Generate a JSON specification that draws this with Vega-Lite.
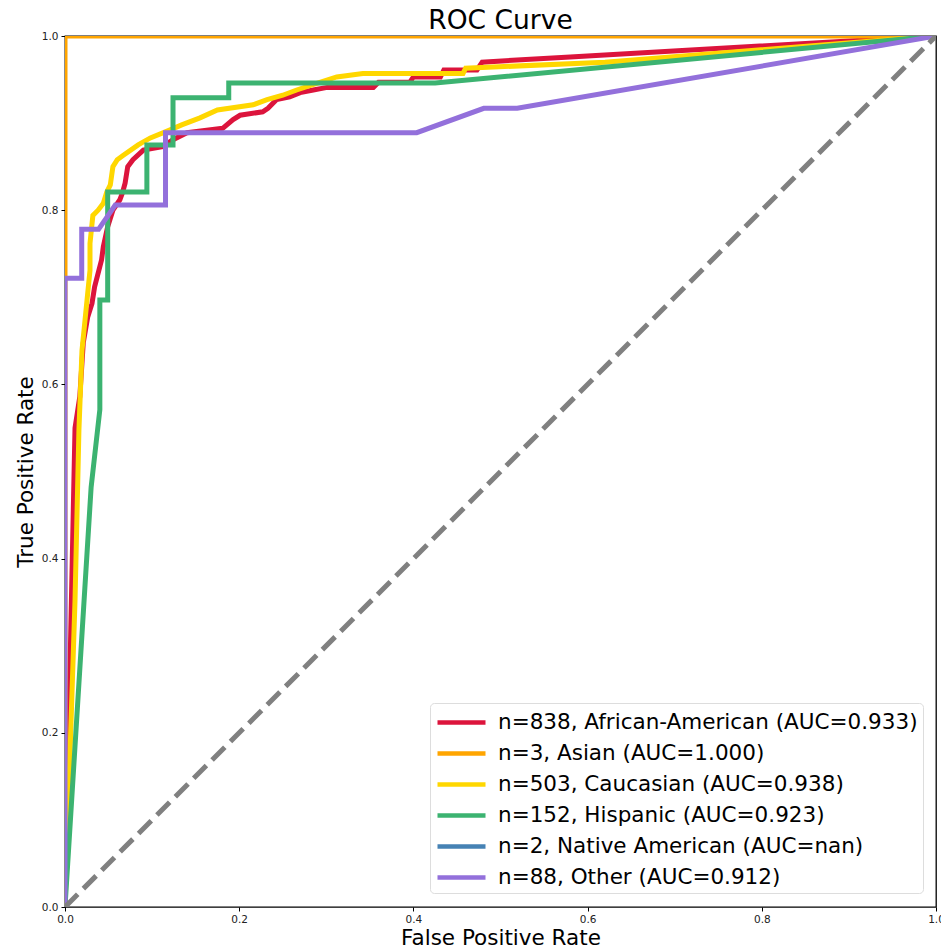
{
  "$schema": "https://vega.github.io/schema/vega-lite/v6.json",
  "width": 871,
  "height": 871,
  "autosize": "none",
  "padding": {"left": 65, "top": 36, "right": 5, "bottom": 43},
  "background": "white",
  "config": {
    "font": "DejaVu Sans",
    "view": {"stroke": "black", "strokeWidth": 1.3}
  },
  "title": {"text": "ROC Curve", "fontSize": 26.5, "fontWeight": "normal", "font": "DejaVu Sans", "color": "black", "offset": -3, "anchor": "middle"},
  "datasets": {
    "roc": [
      {"group": "n=838, African-American (AUC=0.933)", "fpr": 0, "tpr": 0},
      {"group": "n=838, African-American (AUC=0.933)", "fpr": 0.0115, "tpr": 0.55},
      {"group": "n=838, African-American (AUC=0.933)", "fpr": 0.017, "tpr": 0.586},
      {"group": "n=838, African-American (AUC=0.933)", "fpr": 0.021, "tpr": 0.648},
      {"group": "n=838, African-American (AUC=0.933)", "fpr": 0.026, "tpr": 0.677},
      {"group": "n=838, African-American (AUC=0.933)", "fpr": 0.031, "tpr": 0.693},
      {"group": "n=838, African-American (AUC=0.933)", "fpr": 0.034, "tpr": 0.712},
      {"group": "n=838, African-American (AUC=0.933)", "fpr": 0.042, "tpr": 0.743},
      {"group": "n=838, African-American (AUC=0.933)", "fpr": 0.044, "tpr": 0.758},
      {"group": "n=838, African-American (AUC=0.933)", "fpr": 0.049, "tpr": 0.781},
      {"group": "n=838, African-American (AUC=0.933)", "fpr": 0.055, "tpr": 0.8},
      {"group": "n=838, African-American (AUC=0.933)", "fpr": 0.063, "tpr": 0.812},
      {"group": "n=838, African-American (AUC=0.933)", "fpr": 0.066, "tpr": 0.82},
      {"group": "n=838, African-American (AUC=0.933)", "fpr": 0.069, "tpr": 0.831},
      {"group": "n=838, African-American (AUC=0.933)", "fpr": 0.072, "tpr": 0.85},
      {"group": "n=838, African-American (AUC=0.933)", "fpr": 0.078, "tpr": 0.858},
      {"group": "n=838, African-American (AUC=0.933)", "fpr": 0.09, "tpr": 0.869},
      {"group": "n=838, African-American (AUC=0.933)", "fpr": 0.112, "tpr": 0.873},
      {"group": "n=838, African-American (AUC=0.933)", "fpr": 0.124, "tpr": 0.881},
      {"group": "n=838, African-American (AUC=0.933)", "fpr": 0.14, "tpr": 0.889},
      {"group": "n=838, African-American (AUC=0.933)", "fpr": 0.181, "tpr": 0.894},
      {"group": "n=838, African-American (AUC=0.933)", "fpr": 0.193, "tpr": 0.904},
      {"group": "n=838, African-American (AUC=0.933)", "fpr": 0.201, "tpr": 0.909},
      {"group": "n=838, African-American (AUC=0.933)", "fpr": 0.227, "tpr": 0.913},
      {"group": "n=838, African-American (AUC=0.933)", "fpr": 0.233, "tpr": 0.917},
      {"group": "n=838, African-American (AUC=0.933)", "fpr": 0.243, "tpr": 0.927},
      {"group": "n=838, African-American (AUC=0.933)", "fpr": 0.258, "tpr": 0.93},
      {"group": "n=838, African-American (AUC=0.933)", "fpr": 0.27, "tpr": 0.935},
      {"group": "n=838, African-American (AUC=0.933)", "fpr": 0.285, "tpr": 0.938},
      {"group": "n=838, African-American (AUC=0.933)", "fpr": 0.301, "tpr": 0.941},
      {"group": "n=838, African-American (AUC=0.933)", "fpr": 0.354, "tpr": 0.941},
      {"group": "n=838, African-American (AUC=0.933)", "fpr": 0.36, "tpr": 0.947},
      {"group": "n=838, African-American (AUC=0.933)", "fpr": 0.396, "tpr": 0.947},
      {"group": "n=838, African-American (AUC=0.933)", "fpr": 0.4, "tpr": 0.953},
      {"group": "n=838, African-American (AUC=0.933)", "fpr": 0.431, "tpr": 0.953},
      {"group": "n=838, African-American (AUC=0.933)", "fpr": 0.435, "tpr": 0.961},
      {"group": "n=838, African-American (AUC=0.933)", "fpr": 0.473, "tpr": 0.961},
      {"group": "n=838, African-American (AUC=0.933)", "fpr": 0.479, "tpr": 0.97},
      {"group": "n=838, African-American (AUC=0.933)", "fpr": 0.58, "tpr": 0.976},
      {"group": "n=838, African-American (AUC=0.933)", "fpr": 1, "tpr": 1},
      {"group": "n=3, Asian (AUC=1.000)", "fpr": 0, "tpr": 0},
      {"group": "n=3, Asian (AUC=1.000)", "fpr": 0, "tpr": 1},
      {"group": "n=3, Asian (AUC=1.000)", "fpr": 1, "tpr": 1},
      {"group": "n=503, Caucasian (AUC=0.938)", "fpr": 0, "tpr": 0},
      {"group": "n=503, Caucasian (AUC=0.938)", "fpr": 0.0115, "tpr": 0.352},
      {"group": "n=503, Caucasian (AUC=0.938)", "fpr": 0.016, "tpr": 0.548},
      {"group": "n=503, Caucasian (AUC=0.938)", "fpr": 0.0195, "tpr": 0.639},
      {"group": "n=503, Caucasian (AUC=0.938)", "fpr": 0.023, "tpr": 0.674},
      {"group": "n=503, Caucasian (AUC=0.938)", "fpr": 0.0253, "tpr": 0.697},
      {"group": "n=503, Caucasian (AUC=0.938)", "fpr": 0.0287, "tpr": 0.731},
      {"group": "n=503, Caucasian (AUC=0.938)", "fpr": 0.0287, "tpr": 0.762},
      {"group": "n=503, Caucasian (AUC=0.938)", "fpr": 0.032, "tpr": 0.794},
      {"group": "n=503, Caucasian (AUC=0.938)", "fpr": 0.038, "tpr": 0.8},
      {"group": "n=503, Caucasian (AUC=0.938)", "fpr": 0.044, "tpr": 0.808},
      {"group": "n=503, Caucasian (AUC=0.938)", "fpr": 0.048, "tpr": 0.821},
      {"group": "n=503, Caucasian (AUC=0.938)", "fpr": 0.052, "tpr": 0.829},
      {"group": "n=503, Caucasian (AUC=0.938)", "fpr": 0.055, "tpr": 0.85},
      {"group": "n=503, Caucasian (AUC=0.938)", "fpr": 0.06, "tpr": 0.858},
      {"group": "n=503, Caucasian (AUC=0.938)", "fpr": 0.067, "tpr": 0.863},
      {"group": "n=503, Caucasian (AUC=0.938)", "fpr": 0.084, "tpr": 0.875},
      {"group": "n=503, Caucasian (AUC=0.938)", "fpr": 0.098, "tpr": 0.883},
      {"group": "n=503, Caucasian (AUC=0.938)", "fpr": 0.12, "tpr": 0.892},
      {"group": "n=503, Caucasian (AUC=0.938)", "fpr": 0.134, "tpr": 0.898},
      {"group": "n=503, Caucasian (AUC=0.938)", "fpr": 0.155, "tpr": 0.906},
      {"group": "n=503, Caucasian (AUC=0.938)", "fpr": 0.175, "tpr": 0.915},
      {"group": "n=503, Caucasian (AUC=0.938)", "fpr": 0.216, "tpr": 0.921},
      {"group": "n=503, Caucasian (AUC=0.938)", "fpr": 0.232, "tpr": 0.927},
      {"group": "n=503, Caucasian (AUC=0.938)", "fpr": 0.25, "tpr": 0.932},
      {"group": "n=503, Caucasian (AUC=0.938)", "fpr": 0.266, "tpr": 0.938},
      {"group": "n=503, Caucasian (AUC=0.938)", "fpr": 0.281, "tpr": 0.943},
      {"group": "n=503, Caucasian (AUC=0.938)", "fpr": 0.312, "tpr": 0.953},
      {"group": "n=503, Caucasian (AUC=0.938)", "fpr": 0.342, "tpr": 0.957},
      {"group": "n=503, Caucasian (AUC=0.938)", "fpr": 0.457, "tpr": 0.957},
      {"group": "n=503, Caucasian (AUC=0.938)", "fpr": 0.46, "tpr": 0.963},
      {"group": "n=503, Caucasian (AUC=0.938)", "fpr": 0.62, "tpr": 0.97},
      {"group": "n=503, Caucasian (AUC=0.938)", "fpr": 1, "tpr": 1},
      {"group": "n=152, Hispanic (AUC=0.923)", "fpr": 0, "tpr": 0},
      {"group": "n=152, Hispanic (AUC=0.923)", "fpr": 0.03, "tpr": 0.482},
      {"group": "n=152, Hispanic (AUC=0.923)", "fpr": 0.04, "tpr": 0.571},
      {"group": "n=152, Hispanic (AUC=0.923)", "fpr": 0.04, "tpr": 0.697},
      {"group": "n=152, Hispanic (AUC=0.923)", "fpr": 0.049, "tpr": 0.697},
      {"group": "n=152, Hispanic (AUC=0.923)", "fpr": 0.049, "tpr": 0.821},
      {"group": "n=152, Hispanic (AUC=0.923)", "fpr": 0.094, "tpr": 0.821},
      {"group": "n=152, Hispanic (AUC=0.923)", "fpr": 0.094, "tpr": 0.875},
      {"group": "n=152, Hispanic (AUC=0.923)", "fpr": 0.124, "tpr": 0.875},
      {"group": "n=152, Hispanic (AUC=0.923)", "fpr": 0.124, "tpr": 0.929},
      {"group": "n=152, Hispanic (AUC=0.923)", "fpr": 0.188, "tpr": 0.929},
      {"group": "n=152, Hispanic (AUC=0.923)", "fpr": 0.188, "tpr": 0.946},
      {"group": "n=152, Hispanic (AUC=0.923)", "fpr": 0.425, "tpr": 0.946},
      {"group": "n=152, Hispanic (AUC=0.923)", "fpr": 1, "tpr": 1},
      {"group": "n=88, Other (AUC=0.912)", "fpr": 0, "tpr": 0},
      {"group": "n=88, Other (AUC=0.912)", "fpr": 0, "tpr": 0.722},
      {"group": "n=88, Other (AUC=0.912)", "fpr": 0.0192, "tpr": 0.722},
      {"group": "n=88, Other (AUC=0.912)", "fpr": 0.0192, "tpr": 0.778},
      {"group": "n=88, Other (AUC=0.912)", "fpr": 0.0385, "tpr": 0.778},
      {"group": "n=88, Other (AUC=0.912)", "fpr": 0.0577, "tpr": 0.806},
      {"group": "n=88, Other (AUC=0.912)", "fpr": 0.1154, "tpr": 0.806},
      {"group": "n=88, Other (AUC=0.912)", "fpr": 0.1154, "tpr": 0.889},
      {"group": "n=88, Other (AUC=0.912)", "fpr": 0.4038, "tpr": 0.889},
      {"group": "n=88, Other (AUC=0.912)", "fpr": 0.4808, "tpr": 0.917},
      {"group": "n=88, Other (AUC=0.912)", "fpr": 0.5192, "tpr": 0.917},
      {"group": "n=88, Other (AUC=0.912)", "fpr": 1, "tpr": 1}
    ],
    "diag": [
      {"fpr": 0, "tpr": 0},
      {"fpr": 1, "tpr": 1}
    ]
  },
  "layer": [
    {
      "data": {"name": "roc"},
      "mark": {"type": "line", "strokeWidth": 5, "clip": true},
      "encoding": {
        "x": {
          "field": "fpr", "type": "quantitative",
          "scale": {"domain": [0, 1], "nice": false, "zero": false},
          "axis": {
            "title": "False Positive Rate", "titleFontSize": 21.5, "titleFontWeight": "normal", "titleColor": "black", "titlePadding": 3,
            "labelFontSize": 10.5, "labelColor": "#222", "labelPadding": 3, "tickColor": "black", "tickSize": 4,
            "domain": false, "grid": false, "values": [0, 0.2, 0.4, 0.6, 0.8, 1], "format": ".1f", "labelFlush": false
          }
        },
        "y": {
          "field": "tpr", "type": "quantitative",
          "scale": {"domain": [0, 1], "nice": false, "zero": false},
          "axis": {
            "title": "True Positive Rate", "titleFontSize": 21.5, "titleFontWeight": "normal", "titleColor": "black", "titlePadding": 4,
            "labelFontSize": 10.5, "labelColor": "#222", "labelPadding": 3, "tickColor": "black", "tickSize": 4,
            "domain": false, "grid": false, "values": [0, 0.2, 0.4, 0.6, 0.8, 1], "format": ".1f", "labelFlush": false
          }
        },
        "color": {
          "field": "group", "type": "nominal",
          "scale": {
            "domain": [
              "n=838, African-American (AUC=0.933)",
              "n=3, Asian (AUC=1.000)",
              "n=503, Caucasian (AUC=0.938)",
              "n=152, Hispanic (AUC=0.923)",
              "n=2, Native American (AUC=nan)",
              "n=88, Other (AUC=0.912)"
            ],
            "range": ["#dc143c", "#ffa500", "#ffd700", "#3cb371", "#4682b4", "#9370db"]
          },
          "legend": {
            "orient": "none", "legendX": 365, "legendY": 667, "title": null,
            "labelFontSize": 21.5, "labelColor": "black", "labelFont": "DejaVu Sans",
            "symbolType": "M-1,0H3", "symbolStrokeWidth": 4.5, "symbolSize": 576,
            "fillColor": "white", "strokeColor": "#dddddd", "cornerRadius": 4,
            "padding": 5, "rowPadding": 6, "labelOffset": 34, "labelLimit": 700
          }
        },
        "order": {"value": null}
      }
    },
    {
      "data": {"name": "diag"},
      "mark": {"type": "line", "strokeWidth": 5, "color": "#808080", "strokeDash": [18, 8], "clip": true},
      "encoding": {
        "x": {"field": "fpr", "type": "quantitative"},
        "y": {"field": "tpr", "type": "quantitative"}
      }
    }
  ]
}
